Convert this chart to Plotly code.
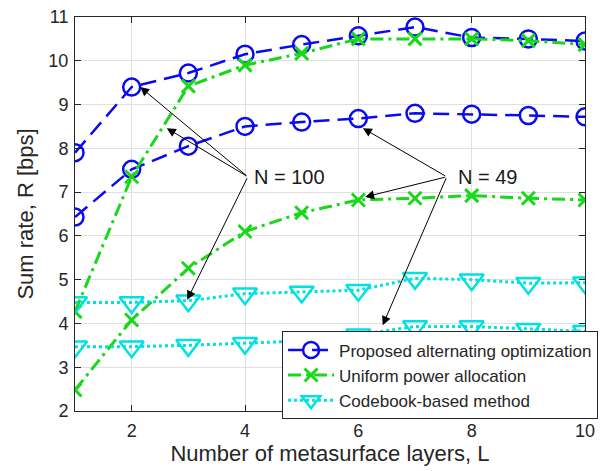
import plotly.graph_objects as go

L = [1, 2, 3, 4, 5, 6, 7, 8, 9, 10]
prop_N100 = [7.9, 9.4, 9.72, 10.15, 10.37, 10.57, 10.77, 10.53, 10.5, 10.45]
prop_N49 = [6.43, 7.52, 8.05, 8.5, 8.6, 8.68, 8.8, 8.78, 8.75, 8.72]
unif_N100 = [4.27, 7.35, 9.42, 9.9, 10.17, 10.5, 10.5, 10.5, 10.46, 10.37]
unif_N49 = [2.48, 4.08, 5.26, 6.1, 6.53, 6.82, 6.86, 6.92, 6.86, 6.82]
code_N100 = [4.48, 4.48, 4.52, 4.68, 4.72, 4.76, 5.03, 5.0, 4.92, 4.93]
code_N49 = [3.47, 3.47, 3.5, 3.55, 3.6, 3.74, 3.93, 3.93, 3.87, 3.82]
y_ticks = [2, 3, 4, 5, 6, 7, 8, 9, 10, 11]
x_ticks = [2, 4, 6, 8, 10]

BLUE = "rgb(10,10,240)"
GREEN = "rgb(25,215,25)"
CYAN = "rgb(0,225,225)"

fig = go.Figure()

def add(y, name, color, dash, width, symbol, msize, mlw, show):
    fig.add_trace(go.Scatter(
        x=L, y=y, mode="lines+markers", name=name, legendgroup=name,
        showlegend=show,
        line=dict(color=color, dash=dash, width=width),
        marker=dict(symbol=symbol, size=msize, color=color,
                    line=dict(color=color, width=mlw)),
    ))

BDASH = "16px,8px"
GDASH = "13px,5px,3px,5px"
add(prop_N100, "Proposed alternating optimization", BLUE, BDASH, 2.5, "circle-open", 17, 2.5, True)
add(prop_N49, "Proposed alternating optimization", BLUE, BDASH, 2.5, "circle-open", 17, 2.5, False)
add(unif_N100, "Uniform power allocation", GREEN, GDASH, 3, "x-thin-open", 13, 3, True)
add(unif_N49, "Uniform power allocation", GREEN, GDASH, 3, "x-thin-open", 13, 3, False)
add(code_N100, "Codebook-based method", CYAN, "dot", 3, "triangle-down-open", 21, 2.5, True)
add(code_N49, "Codebook-based method", CYAN, "dot", 3, "triangle-down-open", 21, 2.5, False)

arrows = [
    ((4.05, 7.35), (2.15, 9.40)),
    ((4.05, 7.35), (2.62, 8.46)),
    ((4.05, 7.35), (2.98, 4.54)),
    ((7.56, 7.35), (6.08, 8.46)),
    ((7.56, 7.35), (6.12, 6.89)),
    ((7.56, 7.35), (6.43, 3.96)),
]
for (x0, y0), (x1, y1) in arrows:
    fig.add_annotation(x=x1, y=y1, ax=x0, ay=y0, xref="x", yref="y",
                       axref="x", ayref="y", showarrow=True, arrowhead=2,
                       arrowsize=1.8, arrowwidth=1, arrowcolor="black", text="")

fig.add_annotation(x=4.12, y=7.35, xref="x", yref="y", text="N = 100", showarrow=False,
                   xanchor="left", font=dict(size=20, color="#1a1a1a"))
fig.add_annotation(x=7.72, y=7.35, xref="x", yref="y", text="N = 49", showarrow=False,
                   xanchor="left", font=dict(size=20, color="#1a1a1a"))

axis_common = dict(showline=True, linecolor="#262626", linewidth=1, mirror="ticks",
                   ticks="inside", ticklen=6, tickcolor="#262626",
                   showgrid=True, gridcolor="#e0e0e0", gridwidth=1, zeroline=False,
                   automargin=False, ticklabeloverflow="allow",
                   tickfont=dict(size=18, color="#262626"))

fig.update_layout(
    width=603, height=463,
    margin=dict(l=67, r=26, t=9, b=60, autoexpand=False),
    paper_bgcolor="white", plot_bgcolor="white",
    font=dict(family="Liberation Sans, Arial, sans-serif", color="#262626"),
    xaxis=dict(range=[1, 10], tickvals=x_ticks, ticklabelstandoff=3,
               title=dict(text="Number of metasurface layers, L", font=dict(size=22), standoff=0),
               **axis_common),
    yaxis=dict(range=[2, 11], tickvals=y_ticks, ticklabelstandoff=2,
               title=dict(text="Sum rate, R [bps]", font=dict(size=22), standoff=8),
               **axis_common),
    legend=dict(x=0.406, y=0.202, xanchor="left", yanchor="top",
                bgcolor="white", bordercolor="#262626", borderwidth=1,
                font=dict(size=17, color="#262626"), itemwidth=46,
                tracegroupgap=0),
    showlegend=True,
)

fig.write_html("out.html")
